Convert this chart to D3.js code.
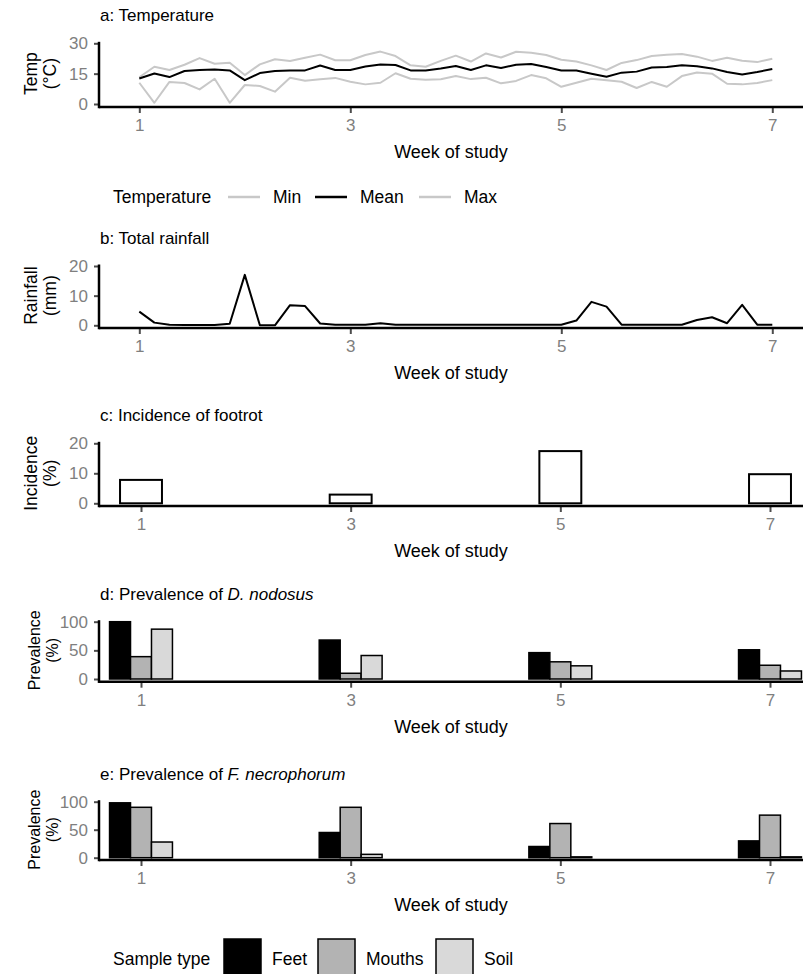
<!DOCTYPE html>
<html>
<head>
<meta charset="utf-8">
<script src="https://cdn.jsdelivr.net/npm/d3@7"></script>
<style>
  body { margin: 0; background: #fff; }
  text { font-family: "Liberation Sans", Arial, sans-serif; }
</style>
</head>
<body>
<div id="chart"></div>
<script>
const width = 803;
const height = 974;

// daily records over the study, day 0 = week 1
const studyDays = d3.range(43);
const weekTicks = [1, 3, 5, 7];

const tempMin = [10.5, 0.6, 10.9, 10.4, 7.2, 12.5, 0.6, 9.4, 8.9, 6.1, 13.0, 11.5, 12.2, 12.9, 11.0, 9.7, 10.5, 15.2, 12.5, 12.0, 12.2, 13.8,
  12.3, 13.0, 10.2, 11.4, 14.3, 12.7, 8.5, 10.5, 12.5, 11.7, 11.0, 7.9, 10.9, 8.5, 13.8, 15.6, 15.0, 10.0, 9.7, 10.4, 11.8];
const tempMean = [12.6, 15.1, 13.3, 16.3, 16.8, 17.1, 16.6, 11.8, 15.3, 16.3, 16.6, 16.6, 19.0, 16.8, 16.8, 18.5, 19.5, 19.3, 16.6, 16.6, 17.6, 18.8,
  16.8, 19.1, 17.8, 19.4, 19.8, 18.3, 16.6, 16.6, 15.0, 13.5, 15.5, 16.0, 18.0, 18.3, 19.1, 18.6, 17.6, 15.8, 14.6, 15.8, 17.3];
const tempMax = [13.2, 18.4, 16.8, 19.4, 22.7, 19.9, 20.4, 14.3, 19.6, 22.1, 21.3, 22.9, 24.4, 21.6, 21.6, 24.2, 25.9, 23.7, 19.1, 18.4, 21.3, 23.9,
  21.0, 25.0, 23.0, 25.8, 25.3, 24.2, 21.9, 21.0, 19.1, 16.8, 20.3, 21.7, 23.7, 24.3, 24.7, 23.4, 21.3, 22.9, 21.4, 20.7, 22.4];
const tempSeries = ['Min', 'Mean', 'Max'];

const rainfall = [4.6, 0.9, 0.2, 0.1, 0.1, 0.1, 0.5, 17.0, 0, 0, 6.8, 6.5, 0.6, 0.2, 0.2, 0.2, 0.7, 0.2, 0.2, 0.2, 0.2, 0.2,
  0.2, 0.2, 0.2, 0.2, 0.2, 0.2, 0.2, 1.6, 7.9, 6.3, 0.2, 0.2, 0.2, 0.2, 0.2, 1.8, 2.7, 0.7, 6.9, 0.2, 0.2];

const sampleWeeks = [1, 3, 5, 7];
const incidence = [7.8, 2.9, 17.4, 9.7];

const sampleTypes = ['Feet', 'Mouths', 'Soil'];
const sampleColours = ['#000000', '#b3b3b3', '#d9d9d9'];
const nodosusFeet = [100, 68, 46, 51];
const nodosusMouths = [39, 10, 30, 24];
const nodosusSoil = [87, 41, 23, 14];
const necroFeet = [98, 45, 20, 30];
const necroMouths = [90, 90, 61, 76];
const necroSoil = [28, 6, 1.5, 1.5];

const svg = d3.select('#chart')
  .append('svg')
  .attr('width', width)
  .attr('height', height);

const plotLeft = 99;
const plotRight = 803;
const tickGrey = '#4d4d4d';
const labelGrey = '#7f7f7f';
const fontStack = '"Liberation Sans", Arial, sans-serif';

function panel(cfg) {
  const x = d3.scaleLinear().domain([1, 7]).range(cfg.xRange);
  const y = d3.scaleLinear().domain(cfg.yDomain).range(cfg.yRange);
  const g = svg.append('g');

  // title
  const t = g.append('text')
    .attr('x', plotLeft + 1)
    .attr('y', cfg.yRange[1] - 22)
    .attr('font-size', 17)
    .attr('fill', '#000');
  cfg.title.forEach(p => t.append('tspan').attr('font-style', p.italic ? 'italic' : null).text(p.text));

  // y axis
  g.append('g')
    .attr('transform', `translate(${plotLeft},0)`)
    .call(d3.axisLeft(y).tickValues(cfg.yTicks).tickSize(5).tickPadding(6).tickFormat(d3.format('d')))
    .call(a => a.select('.domain').remove())
    .call(a => a.selectAll('line').attr('stroke', tickGrey).attr('stroke-width', 2))
    .call(a => a.selectAll('text').attr('fill', labelGrey).attr('font-size', 17).attr('font-family', fontStack));

  // x axis
  g.append('g')
    .attr('transform', `translate(0,${cfg.axisY})`)
    .call(d3.axisBottom(x).tickValues(weekTicks).tickSize(6).tickPadding(6).tickFormat(d3.format('d')))
    .call(a => a.select('.domain').remove())
    .call(a => a.selectAll('line').attr('stroke', tickGrey).attr('stroke-width', 2))
    .call(a => a.selectAll('text').attr('fill', labelGrey).attr('font-size', 17).attr('font-family', fontStack));

  g.append('text')
    .attr('x', (plotLeft + plotRight) / 2)
    .attr('y', cfg.axisY + 51)
    .attr('text-anchor', 'middle')
    .attr('font-size', 18)
    .text('Week of study');

  // y title, two lines
  const cy = (cfg.yRange[0] + cfg.yRange[1]) / 2;
  cfg.yTitle.forEach((s, i) => {
    g.append('text')
      .attr('transform', `translate(${cfg.yTitleX[i]},${cy}) rotate(-90)`)
      .attr('text-anchor', 'middle')
      .attr('font-size', cfg.yTitleSize)
      .text(s);
  });

  const marks = g.append('g');

  // axis lines on top
  g.append('line')
    .attr('x1', plotLeft).attr('x2', plotRight)
    .attr('y1', cfg.axisY).attr('y2', cfg.axisY)
    .attr('stroke', '#000').attr('stroke-width', 2.5);
  g.append('line')
    .attr('x1', plotLeft).attr('x2', plotLeft)
    .attr('y1', cfg.yRange[1] - 1.5).attr('y2', cfg.axisY + 1.25)
    .attr('stroke', '#000').attr('stroke-width', 2.5);

  return { x, y, marks };
}

// a: temperature
const pa = panel({
  title: [{ text: 'a: Temperature' }],
  xRange: [139.3, 772.3], yDomain: [0, 30], yRange: [104, 43.3], yTicks: [0, 15, 30],
  axisY: 107, yTitle: ['Temp', '(°C)'], yTitleX: [37, 56], yTitleSize: 17.5
});
const tempLine = d3.line().x((d, i) => pa.x(1 + studyDays[i] / 7)).y(d => pa.y(d));
[[tempMin, '#c8c8c8'], [tempMax, '#c8c8c8'], [tempMean, '#000']].forEach(([s, c]) => {
  pa.marks.append('path')
    .attr('d', tempLine(s))
    .attr('fill', 'none')
    .attr('stroke', c)
    .attr('stroke-width', 2)
    .attr('stroke-linejoin', 'round');
});

// temperature legend
const legA = svg.append('g').attr('font-size', 17.5);
legA.append('text').attr('x', 113).attr('y', 203).text('Temperature');
const tempKeys = [
  { x: 228, tx: 273, c: '#c8c8c8' },
  { x: 315, tx: 360, c: '#000' },
  { x: 419, tx: 464, c: '#c8c8c8' }
];
tempSeries.forEach((s, i) => {
  const k = tempKeys[i];
  legA.append('line').attr('x1', k.x).attr('x2', k.x + 32).attr('y1', 197).attr('y2', 197)
    .attr('stroke', k.c).attr('stroke-width', 2.5);
  legA.append('text').attr('x', k.tx).attr('y', 203).text(s);
});

// b: rainfall
const pb = panel({
  title: [{ text: 'b: Total rainfall' }],
  xRange: [139.3, 772.3], yDomain: [0, 20], yRange: [325.3, 266], yTicks: [0, 10, 20],
  axisY: 328, yTitle: ['Rainfall', '(mm)'], yTitleX: [37, 56], yTitleSize: 17.5
});
pb.marks.append('path')
  .attr('d', d3.line().x((d, i) => pb.x(1 + studyDays[i] / 7)).y(d => pb.y(d))(rainfall))
  .attr('fill', 'none')
  .attr('stroke', '#000')
  .attr('stroke-width', 2)
  .attr('stroke-linejoin', 'round');

// c: incidence
const pc = panel({
  title: [{ text: 'c: Incidence of footrot' }],
  xRange: [141, 770], yDomain: [0, 20], yRange: [503.3, 443.3], yTicks: [0, 10, 20],
  axisY: 506, yTitle: ['Incidence', '(%)'], yTitleX: [37, 56], yTitleSize: 17.5
});
pc.marks.selectAll('rect')
  .data(incidence)
  .join('rect')
  .attr('x', (d, i) => pc.x(sampleWeeks[i] - 0.2))
  .attr('width', (d, i) => pc.x(sampleWeeks[i] + 0.2) - pc.x(sampleWeeks[i] - 0.2))
  .attr('y', d => pc.y(d))
  .attr('height', d => pc.y(0) - pc.y(d))
  .attr('fill', '#fff')
  .attr('stroke', '#000')
  .attr('stroke-width', 2);

function dodgedBars(p, series) {
  sampleWeeks.forEach((w, wi) => {
    const band = d3.scaleBand().domain(sampleTypes).range([p.x(w - 0.3), p.x(w + 0.3)]);
    p.marks.append('g')
      .selectAll('rect')
      .data(sampleTypes)
      .join('rect')
      .attr('x', s => band(s))
      .attr('width', band.bandwidth())
      .attr('y', (s, si) => p.y(series[si][wi]))
      .attr('height', (s, si) => p.y(0) - p.y(series[si][wi]))
      .attr('fill', (s, si) => sampleColours[si])
      .attr('stroke', '#000')
      .attr('stroke-width', 1.5);
  });
}

// d: D. nodosus
const pd = panel({
  title: [{ text: 'd: Prevalence of ' }, { text: 'D. nodosus', italic: true }],
  xRange: [141, 770], yDomain: [0, 100], yRange: [679, 621.7], yTicks: [0, 50, 100],
  axisY: 681.7, yTitle: ['Prevalence', '(%)'], yTitleX: [40, 58], yTitleSize: 16
});
dodgedBars(pd, [nodosusFeet, nodosusMouths, nodosusSoil]);

// e: F. necrophorum
const pe = panel({
  title: [{ text: 'e: Prevalence of ' }, { text: 'F. necrophorum', italic: true }],
  xRange: [141, 770], yDomain: [0, 100], yRange: [857.7, 801.7], yTicks: [0, 50, 100],
  axisY: 860, yTitle: ['Prevalence', '(%)'], yTitleX: [40, 58], yTitleSize: 16
});
dodgedBars(pe, [necroFeet, necroMouths, necroSoil]);

// sample type legend
const legB = svg.append('g').attr('font-size', 17.5);
legB.append('text').attr('x', 113).attr('y', 965).text('Sample type');
const sampleKeys = [{ x: 224, tx: 272 }, { x: 318, tx: 366 }, { x: 436, tx: 484 }];
sampleTypes.forEach((s, i) => {
  const k = sampleKeys[i];
  legB.append('rect').attr('x', k.x).attr('y', 939).attr('width', 37).attr('height', 42)
    .attr('fill', sampleColours[i]).attr('stroke', '#000').attr('stroke-width', 1.5);
  legB.append('text').attr('x', k.tx).attr('y', 965).text(s);
});
</script>
</body>
</html>
